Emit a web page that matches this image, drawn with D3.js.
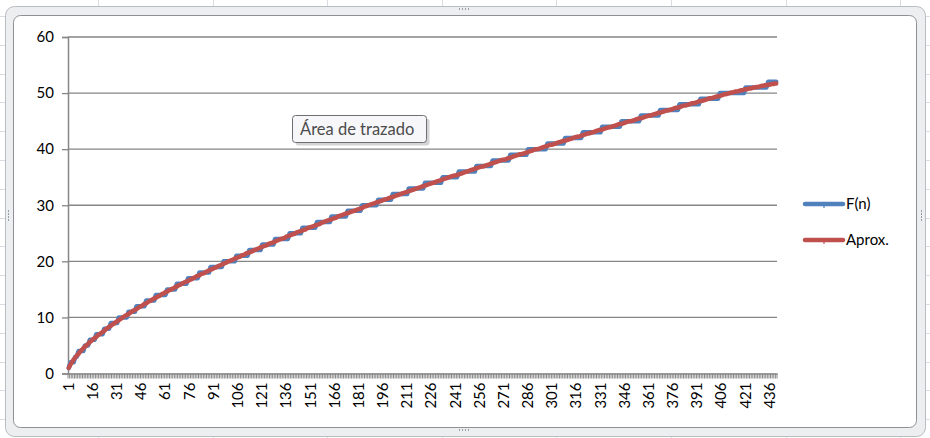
<!DOCTYPE html>
<html><head><meta charset="utf-8">
<script src="https://cdn.jsdelivr.net/npm/d3@7/dist/d3.min.js"></script>
<style>
html,body{margin:0;padding:0;background:#fff;}
svg{display:block;font-family:Lato,"Open Sans",sans-serif;}
</style></head><body>
<svg id="c" width="930" height="438"></svg>
<script>
// ---- data ----
const categories = d3.range(1, 441);
const xTickLabels = [1,16,31,46,61,76,91,106,121,136,151,166,181,196,211,226,241,256,271,286,301,316,331,346,361,376,391,406,421,436];
const yTicks = [0,10,20,30,40,50,60];
const seriesNames = ["F(n)", "Aprox."];
const fValues = [
1,2,2,2,3,3,4,4,4,4,5,5,5,6,6,6,6,7,7,7,
7,7,8,8,8,8,9,9,9,9,9,10,10,10,10,10,10,11,11,11,
11,11,12,12,12,12,12,12,13,13,13,13,13,13,14,14,14,14,14,14,
14,15,15,15,15,15,15,16,16,16,16,16,16,16,17,17,17,17,17,17,
17,18,18,18,18,18,18,18,19,19,19,19,19,19,19,19,20,20,20,20,
20,20,20,20,21,21,21,21,21,21,21,21,22,22,22,22,22,22,22,22,
23,23,23,23,23,23,23,23,24,24,24,24,24,24,24,24,24,25,25,25,
25,25,25,25,25,26,26,26,26,26,26,26,26,26,27,27,27,27,27,27,
27,27,27,28,28,28,28,28,28,28,28,28,28,29,29,29,29,29,29,29,
29,29,30,30,30,30,30,30,30,30,30,30,31,31,31,31,31,31,31,31,
31,32,32,32,32,32,32,32,32,32,32,33,33,33,33,33,33,33,33,33,
33,34,34,34,34,34,34,34,34,34,34,34,35,35,35,35,35,35,35,35,
35,35,36,36,36,36,36,36,36,36,36,36,36,37,37,37,37,37,37,37,
37,37,37,38,38,38,38,38,38,38,38,38,38,38,39,39,39,39,39,39,
39,39,39,39,39,40,40,40,40,40,40,40,40,40,40,40,40,41,41,41,
41,41,41,41,41,41,41,41,42,42,42,42,42,42,42,42,42,42,42,43,
43,43,43,43,43,43,43,43,43,43,43,44,44,44,44,44,44,44,44,44,
44,44,44,45,45,45,45,45,45,45,45,45,45,45,45,46,46,46,46,46,
46,46,46,46,46,46,46,47,47,47,47,47,47,47,47,47,47,47,47,48,
48,48,48,48,48,48,48,48,48,48,48,48,49,49,49,49,49,49,49,49,
49,49,49,49,50,50,50,50,50,50,50,50,50,50,50,50,50,50,50,50,
51,51,51,51,51,51,51,51,51,51,51,51,51,51,52,52,52,52,52,52
];
const aproxValues = [
1.0,1.6,2.0,2.5,2.8,3.2,3.5,3.9,4.2,4.5,4.8,5.0,5.3,5.6,5.8,6.1,6.3,6.5,6.8,7.0,
7.2,7.4,7.6,7.9,8.1,8.3,8.5,8.7,8.9,9.1,9.3,9.5,9.7,9.9,10.1,10.3,10.4,10.6,10.8,11.0,
11.2,11.3,11.5,11.7,11.9,12.0,12.2,12.4,12.5,12.7,12.9,13.0,13.2,13.4,13.5,13.7,13.8,14.0,14.2,14.3,
14.5,14.6,14.8,14.9,15.1,15.2,15.4,15.5,15.7,15.8,16.0,16.1,16.3,16.4,16.5,16.7,16.8,17.0,17.1,17.3,
17.4,17.5,17.7,17.8,17.9,18.1,18.2,18.4,18.5,18.6,18.8,18.9,19.0,19.2,19.3,19.4,19.6,19.7,19.8,20.0,
20.1,20.2,20.3,20.5,20.6,20.7,20.8,21.0,21.1,21.2,21.4,21.5,21.6,21.7,21.8,22.0,22.1,22.2,22.3,22.5,
22.6,22.7,22.8,22.9,23.1,23.2,23.3,23.4,23.5,23.7,23.8,23.9,24.0,24.1,24.2,24.4,24.5,24.6,24.7,24.8,
24.9,25.1,25.2,25.3,25.4,25.5,25.6,25.7,25.9,26.0,26.1,26.2,26.3,26.4,26.5,26.6,26.7,26.9,27.0,27.1,
27.2,27.3,27.4,27.5,27.6,27.7,27.8,28.0,28.1,28.2,28.3,28.4,28.5,28.6,28.7,28.8,28.9,29.0,29.1,29.2,
29.3,29.4,29.5,29.7,29.8,29.9,30.0,30.1,30.2,30.3,30.4,30.5,30.6,30.7,30.8,30.9,31.0,31.1,31.2,31.3,
31.4,31.5,31.6,31.7,31.8,31.9,32.0,32.1,32.2,32.3,32.4,32.5,32.6,32.7,32.8,32.9,33.0,33.1,33.2,33.3,
33.4,33.5,33.6,33.7,33.8,33.9,34.0,34.1,34.2,34.3,34.4,34.5,34.6,34.7,34.8,34.9,35.0,35.1,35.2,35.3,
35.3,35.4,35.5,35.6,35.7,35.8,35.9,36.0,36.1,36.2,36.3,36.4,36.5,36.6,36.7,36.8,36.9,36.9,37.0,37.1,
37.2,37.3,37.4,37.5,37.6,37.7,37.8,37.9,38.0,38.1,38.1,38.2,38.3,38.4,38.5,38.6,38.7,38.8,38.9,39.0,
39.1,39.1,39.2,39.3,39.4,39.5,39.6,39.7,39.8,39.9,40.0,40.0,40.1,40.2,40.3,40.4,40.5,40.6,40.7,40.8,
40.8,40.9,41.0,41.1,41.2,41.3,41.4,41.5,41.5,41.6,41.7,41.8,41.9,42.0,42.1,42.2,42.2,42.3,42.4,42.5,
42.6,42.7,42.8,42.8,42.9,43.0,43.1,43.2,43.3,43.4,43.4,43.5,43.6,43.7,43.8,43.9,43.9,44.0,44.1,44.2,
44.3,44.4,44.5,44.5,44.6,44.7,44.8,44.9,45.0,45.0,45.1,45.2,45.3,45.4,45.5,45.5,45.6,45.7,45.8,45.9,
46.0,46.0,46.1,46.2,46.3,46.4,46.5,46.5,46.6,46.7,46.8,46.9,46.9,47.0,47.1,47.2,47.3,47.4,47.4,47.5,
47.6,47.7,47.8,47.8,47.9,48.0,48.1,48.2,48.2,48.3,48.4,48.5,48.6,48.6,48.7,48.8,48.9,49.0,49.1,49.1,
49.2,49.3,49.4,49.4,49.5,49.6,49.7,49.8,49.8,49.9,50.0,50.1,50.1,50.2,50.3,50.3,50.4,50.5,50.5,50.6,
50.7,50.7,50.8,50.8,50.9,51.0,51.0,51.1,51.1,51.2,51.3,51.3,51.4,51.4,51.5,51.5,51.6,51.6,51.7,51.7
];
const seriesColors = ["#4f81bd", "#c0504d"];

// ---- drawing ----
const svg = d3.select("#c");
const W = 930, H = 438;

// spreadsheet background grid
const bg = svg.append("g");
bg.append("rect").attr("width", W).attr("height", H).attr("fill", "#ffffff");
const colLines = d3.range(98, W, 114.6);
const rowLines = d3.range(16, H, 28.8);
bg.selectAll("line.col").data(colLines).enter().append("line")
  .attr("x1", d => Math.round(d) + 0.5).attr("x2", d => Math.round(d) + 0.5)
  .attr("y1", 0).attr("y2", H).attr("stroke", "#d9dde3").attr("stroke-width", 1);
bg.selectAll("line.row").data(rowLines).enter().append("line")
  .attr("y1", d => Math.round(d) + 0.5).attr("y2", d => Math.round(d) + 0.5)
  .attr("x1", 0).attr("x2", W).attr("stroke", "#d9dde3").attr("stroke-width", 1);

// chart frame (selected chart border)
svg.append("rect").attr("x", 5.5).attr("y", 6.5).attr("width", 920).attr("height", 430)
  .attr("rx", 9).attr("fill", "#eceef0").attr("stroke", "#b9bcc0");
svg.append("rect").attr("x", 13.5).attr("y", 15.5).attr("width", 903).attr("height", 412)
  .attr("rx", 7).attr("fill", "#ffffff").attr("stroke", "#8e9095");

// frame handles
function dots(hx, hy, horiz) {
  for (let i = 0; i < 4; i++) {
    svg.append("rect").attr("x", horiz ? hx + i * 3 : hx).attr("y", horiz ? hy : hy + i * 3)
      .attr("width", 1).attr("height", 2).attr("fill", "#9a9da2");
  }
}
dots(459, 8, true); dots(459, 429, true);
dots(8, 210, false); dots(921, 210, false);

// scales
const pLeft = 68, pRight = 777, pTop = 37, pBottom = 373.5;
const x = d3.scaleBand().domain(categories).range([pLeft, pRight]).padding(0);
const y = d3.scaleLinear().domain([0, 60]).range([pBottom, pTop]);
const cx = d => x(d) + x.bandwidth() / 2;

// gridlines
svg.append("g").selectAll("line").data(yTicks.filter(d => d > 0)).enter().append("line")
  .attr("x1", pLeft).attr("x2", pRight)
  .attr("y1", d => y(d)).attr("y2", d => y(d))
  .attr("stroke", "#868686").attr("stroke-width", 1.3);

// y axis
const yAxis = svg.append("g").attr("transform", `translate(${pLeft},0)`)
  .call(d3.axisLeft(y).tickValues(yTicks).tickSize(6).tickPadding(8));
yAxis.select(".domain").attr("stroke", "#868686").attr("stroke-width", 1.5);
yAxis.selectAll(".tick line").attr("stroke", "#868686").attr("stroke-width", 1.3);
yAxis.selectAll(".tick text").attr("font-size", 15).attr("fill", "#000")
  .attr("font-family", "Lato,'Open Sans',sans-serif");

// x axis: ticks at every category boundary
const xAxis = svg.append("g").attr("transform", `translate(0,${pBottom})`)
  .call(d3.axisBottom(x).tickValues([]).tickSizeOuter(0));
xAxis.select(".domain").attr("stroke", "#868686").attr("stroke-width", 1.5);
const bounds = categories.map(c => x(c)).concat([pRight]);
xAxis.append("g").selectAll("line").data(bounds).enter().append("line")
  .attr("x1", d => d).attr("x2", d => d).attr("y1", 0).attr("y2", 5)
  .attr("stroke", "#868686").attr("stroke-width", 1);
xAxis.append("g").selectAll("text").data(xTickLabels).enter().append("text")
  .attr("transform", d => `translate(${cx(d) + 5},${9}) rotate(-90)`)
  .attr("text-anchor", "end")
  .attr("font-size", 15).attr("fill", "#000")
  .attr("font-family", "Lato,'Open Sans',sans-serif")
  .text(d => d);

// lines
const series = [fValues, aproxValues];
const line = d3.line().x((d, i) => cx(categories[i])).y(d => y(d));
series.forEach((vals, k) => {
  svg.append("path").datum(vals).attr("d", line)
    .attr("fill", "none").attr("stroke", seriesColors[k])
    .attr("stroke-width", 4.5).attr("stroke-linejoin", "round").attr("stroke-linecap", "round");
});

// legend
const lg = svg.append("g");
seriesNames.forEach((name, k) => {
  const ly = 204 + k * 36;
  lg.append("line").attr("x1", 805).attr("x2", 843).attr("y1", ly).attr("y2", ly)
    .attr("stroke", seriesColors[k]).attr("stroke-width", 4.5).attr("stroke-linecap", "round");
  lg.append("line").attr("x1", 824).attr("x2", 824).attr("y1", ly).attr("y2", ly + 4)
    .attr("stroke", seriesColors[k]).attr("stroke-width", 1.2);
  lg.append("text").attr("x", 846).attr("y", ly + 5).attr("font-size", 15).attr("fill", "#000")
    .text(name);
});

// tooltip "Área de trazado"
const tip = svg.append("g");
tip.append("rect").attr("x", 295.5).attr("y", 118.5).attr("width", 134).attr("height", 27)
  .attr("rx", 3).attr("fill", "#b8b8b8").attr("opacity", 0.6);
tip.append("rect").attr("x", 292.5).attr("y", 115.5).attr("width", 134).attr("height", 27)
  .attr("rx", 3).attr("fill", "#f7f7fa").attr("stroke", "#6d6f73");
tip.append("text").attr("x", 300).attr("y", 135).attr("font-size", 16.5).attr("fill", "#4c4c4c")
  .text("Área de trazado");
</script>
</body></html>
